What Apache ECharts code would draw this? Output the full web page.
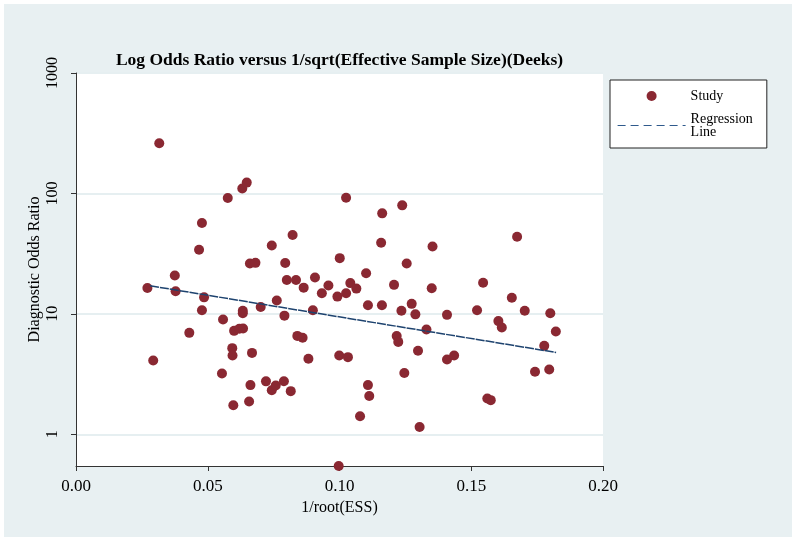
<!DOCTYPE html>
<html><head><meta charset="utf-8">
<script src="https://cdn.jsdelivr.net/npm/echarts@6/dist/echarts.min.js"></script>
<style>html,body{margin:0;padding:0;background:#fff}#c{width:797px;height:543px}</style>
</head><body><div id="c"></div>
<script>
const studyX = [0.0271,0.0293,0.0316,0.0375,0.0378,0.0430,0.0467,0.0478,0.0478,0.0486,
  0.0554,0.0558,0.0576,0.0593,0.0594,0.0600,0.0597,0.0620,0.0634,0.0633,
  0.0633,0.0631,0.0648,0.0657,0.0662,0.0660,0.0681,0.0668,0.0701,0.0721,
  0.0743,0.0758,0.0762,0.0743,0.0789,0.0791,0.0794,0.0815,0.0800,0.0835,
  0.0822,0.0840,0.0860,0.0864,0.0882,0.0899,0.0907,0.0933,0.0958,0.0992,
  0.0999,0.1001,0.0997,0.1025,0.1025,0.1032,0.1041,0.1064,0.1078,0.1101,
  0.1108,0.1108,0.1113,0.1161,0.1158,0.1162,0.1207,0.1217,0.1223,0.1235,
  0.1238,0.1246,0.1255,0.1274,0.1288,0.1298,0.1304,0.1330,0.1350,0.1353,
  0.1408,0.1408,0.1435,0.1522,0.1545,0.1561,0.1574,0.1603,0.1616,0.1654,
  0.1674,0.1703,0.1742,0.1777,0.1796,0.1800,0.1821];
const studyY = [16.4,4.10,261,20.8,15.4,6.95,34.0,56.8,10.7,13.7,
  3.20,8.98,91.6,5.19,4.51,7.22,1.74,7.52,7.55,10.6,
  10.1,110,123,1.87,2.56,26.2,26.5,4.74,11.4,2.75,
  2.32,2.54,12.9,36.9,2.76,9.66,26.4,2.28,19.1,19.1,
  45.1,6.56,6.32,16.5,4.23,10.7,20.0,14.8,17.2,13.9,
  4.51,29.0,0.545,92.1,14.8,4.37,18.0,16.2,1.41,21.7,
  11.8,2.56,2.08,11.8,39.0,68.3,17.4,6.55,5.85,10.6,
  79.6,3.23,26.2,12.1,9.90,4.94,1.15,7.42,16.3,36.3,
  9.81,4.18,4.51,10.7,18.1,1.98,1.92,8.70,7.71,13.6,
  43.7,10.6,3.30,5.42,3.45,10.1,7.14];
const regressionX = [0.0281, 0.1822];
const regressionY = [17.1, 4.78];
const xTicks = [0, 0.05, 0.10, 0.15, 0.20];
const yTicks = [1, 10, 100, 1000];
const titleText = 'Log Odds Ratio versus 1/sqrt(Effective Sample Size)(Deeks)';
const seriesNames = ['Study', 'Regression Line'];

const serif = 'Liberation Serif';
const chart = echarts.init(document.getElementById('c'), null, {renderer: 'canvas'});
const option = {
  animation: false,
  backgroundColor: '#ffffff',
  graphic: [
    {type: 'rect', z: -10, shape: {x: 4, y: 4, width: 788, height: 533}, style: {fill: '#E8F0F2'}},
    {type: 'text', x: 339.5, y: 60, style: {text: titleText, font: 'bold 17.5px "Liberation Serif"', fill: '#000', textAlign: 'center', textVerticalAlign: 'middle'}}
  ],
  grid: {left: 76, right: 194, top: 73, bottom: 77, show: true, backgroundColor: '#ffffff', borderWidth: 0},
  legend: {
    orient: 'vertical', left: 610, top: 80,
    padding: [9, 14, 9, 7],
    backgroundColor: '#ffffff', borderColor: '#222', borderWidth: 1,
    itemWidth: 68, itemHeight: 10, itemGap: 9,
    textStyle: {fontFamily: serif, fontSize: 14, color: '#000', lineHeight: 13},
    formatter: n => n === 'Regression Line' ? 'Regression\nLine' : n,
    data: [
      {name: 'Study', icon: 'circle'},
      {name: 'Regression Line', itemStyle: {opacity: 0}, lineStyle: {type: [8, 5], width: 1.2, color: '#2F5A8C', opacity: 1}}
    ]
  },
  xAxis: {
    type: 'value', min: 0, max: 0.2, interval: 0.05,
    name: '1/root(ESS)', nameLocation: 'middle', nameGap: 34, nameMoveOverlap: false,
    nameTextStyle: {fontFamily: serif, fontSize: 16, color: '#000'},
    axisLine: {show: true, onZero: false, lineStyle: {color: '#333', width: 1}},
    axisTick: {show: true, length: 5, lineStyle: {color: '#333'}},
    axisLabel: {fontFamily: serif, fontSize: 17, color: '#000', margin: 12,
      formatter: v => v.toFixed(2)},
    splitLine: {show: false}
  },
  yAxis: {
    type: 'log', logBase: 10, min: 0.545, max: 1000,
    name: 'Diagnostic Odds Ratio', nameLocation: 'middle', nameGap: 33, nameMoveOverlap: false,
    nameTextStyle: {fontFamily: serif, fontSize: 16, color: '#000'},
    axisLine: {show: true, onZero: false, lineStyle: {color: '#333', width: 1}},
    axisTick: {show: true, length: 5, lineStyle: {color: '#333'}, customValues: yTicks},
    axisLabel: {fontFamily: serif, fontSize: 16, color: '#000', rotate: 90, margin: 15,
      customValues: yTicks, formatter: v => String(Math.round(v))},
    splitLine: {show: true, lineStyle: {color: '#E6EFF1', width: 2}}
  },
  series: [
    {
      name: seriesNames[0], type: 'scatter', symbol: 'circle', symbolSize: 10,
      itemStyle: {color: '#8A2832', opacity: 1},
      data: studyX.map((x, i) => [x, studyY[i]]), z: 3
    },
    {
      name: seriesNames[1], type: 'line', symbol: 'none', showSymbol: false,
      itemStyle: {color: '#1E436F'},
      lineStyle: {color: '#1E436F', width: 1.5, type: [9, 1]},
      data: regressionX.map((x, i) => [x, regressionY[i]]), z: 4
    }
  ]
};
chart.setOption(option);
</script>
</body></html>
